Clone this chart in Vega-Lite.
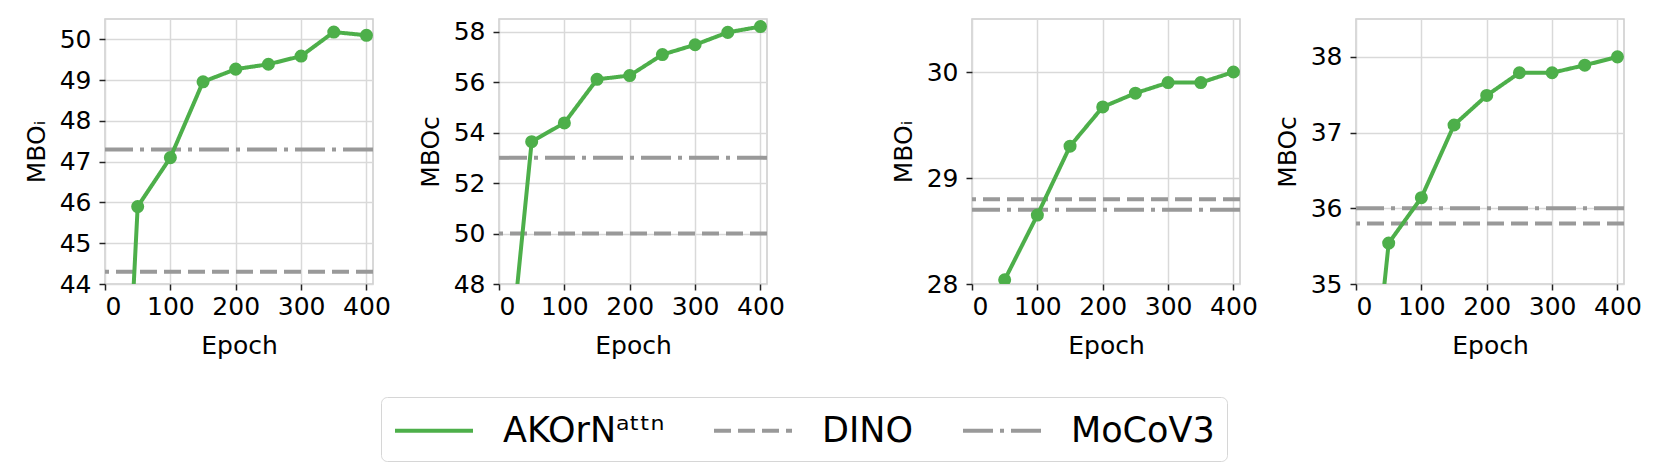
{
  "$schema": "https://vega.github.io/schema/vega-lite/v6.json",
  "background": "white",
  "padding": {"left": 23, "top": 18, "right": 5, "bottom": 5},
  "datasets": {
    "akorn": [
      {"panel": 1, "epoch": 0, "value": 30.1, "method": "AKOrNᵃᵗᵗⁿ"},
      {"panel": 1, "epoch": 50, "value": 45.9, "method": "AKOrNᵃᵗᵗⁿ"},
      {"panel": 1, "epoch": 100, "value": 47.1, "method": "AKOrNᵃᵗᵗⁿ"},
      {"panel": 1, "epoch": 150, "value": 48.96, "method": "AKOrNᵃᵗᵗⁿ"},
      {"panel": 1, "epoch": 200, "value": 49.27, "method": "AKOrNᵃᵗᵗⁿ"},
      {"panel": 1, "epoch": 250, "value": 49.39, "method": "AKOrNᵃᵗᵗⁿ"},
      {"panel": 1, "epoch": 300, "value": 49.59, "method": "AKOrNᵃᵗᵗⁿ"},
      {"panel": 1, "epoch": 350, "value": 50.18, "method": "AKOrNᵃᵗᵗⁿ"},
      {"panel": 1, "epoch": 400, "value": 50.1, "method": "AKOrNᵃᵗᵗⁿ"},
      {"panel": 2, "epoch": 0, "value": 40.7, "method": "AKOrNᵃᵗᵗⁿ"},
      {"panel": 2, "epoch": 50, "value": 53.64, "method": "AKOrNᵃᵗᵗⁿ"},
      {"panel": 2, "epoch": 100, "value": 54.38, "method": "AKOrNᵃᵗᵗⁿ"},
      {"panel": 2, "epoch": 150, "value": 56.11, "method": "AKOrNᵃᵗᵗⁿ"},
      {"panel": 2, "epoch": 200, "value": 56.26, "method": "AKOrNᵃᵗᵗⁿ"},
      {"panel": 2, "epoch": 250, "value": 57.09, "method": "AKOrNᵃᵗᵗⁿ"},
      {"panel": 2, "epoch": 300, "value": 57.48, "method": "AKOrNᵃᵗᵗⁿ"},
      {"panel": 2, "epoch": 350, "value": 57.97, "method": "AKOrNᵃᵗᵗⁿ"},
      {"panel": 2, "epoch": 400, "value": 58.2, "method": "AKOrNᵃᵗᵗⁿ"},
      {"panel": 3, "epoch": 0, "value": 24.0, "method": "AKOrNᵃᵗᵗⁿ"},
      {"panel": 3, "epoch": 50, "value": 28.04, "method": "AKOrNᵃᵗᵗⁿ"},
      {"panel": 3, "epoch": 100, "value": 28.65, "method": "AKOrNᵃᵗᵗⁿ"},
      {"panel": 3, "epoch": 150, "value": 29.3, "method": "AKOrNᵃᵗᵗⁿ"},
      {"panel": 3, "epoch": 200, "value": 29.67, "method": "AKOrNᵃᵗᵗⁿ"},
      {"panel": 3, "epoch": 250, "value": 29.8, "method": "AKOrNᵃᵗᵗⁿ"},
      {"panel": 3, "epoch": 300, "value": 29.9, "method": "AKOrNᵃᵗᵗⁿ"},
      {"panel": 3, "epoch": 350, "value": 29.9, "method": "AKOrNᵃᵗᵗⁿ"},
      {"panel": 3, "epoch": 400, "value": 30.0, "method": "AKOrNᵃᵗᵗⁿ"},
      {"panel": 4, "epoch": 0, "value": 31.4, "method": "AKOrNᵃᵗᵗⁿ"},
      {"panel": 4, "epoch": 50, "value": 35.54, "method": "AKOrNᵃᵗᵗⁿ"},
      {"panel": 4, "epoch": 100, "value": 36.14, "method": "AKOrNᵃᵗᵗⁿ"},
      {"panel": 4, "epoch": 150, "value": 37.1, "method": "AKOrNᵃᵗᵗⁿ"},
      {"panel": 4, "epoch": 200, "value": 37.49, "method": "AKOrNᵃᵗᵗⁿ"},
      {"panel": 4, "epoch": 250, "value": 37.79, "method": "AKOrNᵃᵗᵗⁿ"},
      {"panel": 4, "epoch": 300, "value": 37.79, "method": "AKOrNᵃᵗᵗⁿ"},
      {"panel": 4, "epoch": 350, "value": 37.89, "method": "AKOrNᵃᵗᵗⁿ"},
      {"panel": 4, "epoch": 400, "value": 38.0, "method": "AKOrNᵃᵗᵗⁿ"}
    ],
    "base": [
      {"panel": 1, "value": 44.3, "method": "DINO"},
      {"panel": 1, "value": 47.3, "method": "MoCoV3"},
      {"panel": 2, "value": 50.0, "method": "DINO"},
      {"panel": 2, "value": 53.0, "method": "MoCoV3"},
      {"panel": 3, "value": 28.8, "method": "DINO"},
      {"panel": 3, "value": 28.7, "method": "MoCoV3"},
      {"panel": 4, "value": 35.8, "method": "DINO"},
      {"panel": 4, "value": 36.0, "method": "MoCoV3"}
    ]
  },
  "config": {
    "font": "DejaVu Sans",
    "view": {"stroke": "#cccccc", "strokeWidth": 1.5},
    "axis": {
      "labelFont": "DejaVu Sans", "titleFont": "DejaVu Sans",
      "labelFontSize": 25, "titleFontSize": 25, "titleFontWeight": "normal",
      "labelColor": "black", "titleColor": "black",
      "domain": false, "tickColor": "#222222", "tickSize": 6, "tickWidth": 1.5,
      "gridColor": "#d9d9d9", "gridWidth": 1.5
    },
    "axisX": {"labelPadding": 4, "titlePadding": 14},
    "axisY": {"labelPadding": 8, "titlePadding": 10, "format": "d"},
    "legend": {"labelFont": "DejaVu Sans"}
  },
  "spacing": 104,
  "hconcat": [
    {
      "spacing": 25,
      "hconcat": [
        {
          "width": 268, "height": 265,
          "layer": [
            {
              "data": {"name": "base"},
              "transform": [{"filter": "datum.panel == 1"}],
              "mark": {"type": "rule", "strokeWidth": 4, "clip": true},
              "encoding": {
                "y": {"field": "value", "type": "quantitative", "scale": {"domain": [44, 50.5], "nice": false, "zero": false}, "axis": {"title": "MBOᵢ", "values": [44, 45, 46, 47, 48, 49, 50]}},
                "color": {"field": "method", "type": "nominal", "scale": {"domain": ["AKOrNᵃᵗᵗⁿ", "DINO", "MoCoV3"], "range": ["#4daf4a", "#999999", "#999999"]},
                  "legend": {"title": null, "orient": "none", "legendX": 276, "legendY": 378, "direction": "horizontal", "symbolType": "M-1,0H3", "symbolSize": 1521, "symbolStrokeWidth": 4, "labelFontSize": 35, "labelColor": "black", "labelLimit": 600, "labelOffset": 67, "columnPadding": 41, "padding": 12, "strokeColor": "#d6d6d6", "fillColor": "white", "cornerRadius": 6}},
                "strokeDash": {"field": "method", "type": "nominal", "scale": {"domain": ["AKOrNᵃᵗᵗⁿ", "DINO", "MoCoV3"], "range": [[1, 0], [17, 7], [30, 7, 4, 7]]},
                  "legend": {"title": null, "orient": "none", "legendX": 276, "legendY": 378, "direction": "horizontal", "symbolType": "M-1,0H3", "symbolSize": 1521, "symbolStrokeWidth": 4, "labelFontSize": 35, "labelColor": "black", "labelLimit": 600, "labelOffset": 67, "columnPadding": 41, "padding": 12, "strokeColor": "#d6d6d6", "fillColor": "white", "cornerRadius": 6}}
              }
            },
            {
              "data": {"name": "akorn"},
              "transform": [{"filter": "datum.panel == 1"}],
              "mark": {"type": "line", "strokeWidth": 4, "clip": true},
              "encoding": {
                "x": {"field": "epoch", "type": "quantitative", "scale": {"domain": [0, 410], "nice": false}, "axis": {"title": "Epoch", "values": [0, 100, 200, 300, 400]}},
                "y": {"field": "value", "type": "quantitative"},
                "color": {"field": "method", "type": "nominal"},
                "strokeDash": {"field": "method", "type": "nominal"}
              }
            },
            {
              "data": {"name": "akorn"},
              "transform": [{"filter": "datum.panel == 1"}],
              "mark": {"type": "point", "filled": true, "size": 170, "opacity": 1, "clip": true},
              "encoding": {
                "x": {"field": "epoch", "type": "quantitative"},
                "y": {"field": "value", "type": "quantitative"},
                "color": {"field": "method", "type": "nominal"}
              }
            }
          ]
        },
        {
          "width": 268, "height": 265,
          "layer": [
            {
              "data": {"name": "base"},
              "transform": [{"filter": "datum.panel == 2"}],
              "mark": {"type": "rule", "strokeWidth": 4, "clip": true},
              "encoding": {
                "y": {"field": "value", "type": "quantitative", "scale": {"domain": [48, 58.5], "nice": false, "zero": false}, "axis": {"title": "MBOᴄ", "values": [48, 50, 52, 54, 56, 58]}},
                "color": {"field": "method", "type": "nominal"},
                "strokeDash": {"field": "method", "type": "nominal"}
              }
            },
            {
              "data": {"name": "akorn"},
              "transform": [{"filter": "datum.panel == 2"}],
              "mark": {"type": "line", "strokeWidth": 4, "clip": true},
              "encoding": {
                "x": {"field": "epoch", "type": "quantitative", "scale": {"domain": [0, 410], "nice": false}, "axis": {"title": "Epoch", "values": [0, 100, 200, 300, 400]}},
                "y": {"field": "value", "type": "quantitative"},
                "color": {"field": "method", "type": "nominal"},
                "strokeDash": {"field": "method", "type": "nominal"}
              }
            },
            {
              "data": {"name": "akorn"},
              "transform": [{"filter": "datum.panel == 2"}],
              "mark": {"type": "point", "filled": true, "size": 170, "opacity": 1, "clip": true},
              "encoding": {
                "x": {"field": "epoch", "type": "quantitative"},
                "y": {"field": "value", "type": "quantitative"},
                "color": {"field": "method", "type": "nominal"}
              }
            }
          ]
        }
      ]
    },
    {
      "spacing": 15,
      "hconcat": [
        {
          "width": 268, "height": 265,
          "layer": [
            {
              "data": {"name": "base"},
              "transform": [{"filter": "datum.panel == 3"}],
              "mark": {"type": "rule", "strokeWidth": 4, "clip": true},
              "encoding": {
                "y": {"field": "value", "type": "quantitative", "scale": {"domain": [28, 30.5], "nice": false, "zero": false}, "axis": {"title": "MBOᵢ", "values": [28, 29, 30]}},
                "color": {"field": "method", "type": "nominal"},
                "strokeDash": {"field": "method", "type": "nominal"}
              }
            },
            {
              "data": {"name": "akorn"},
              "transform": [{"filter": "datum.panel == 3"}],
              "mark": {"type": "line", "strokeWidth": 4, "clip": true},
              "encoding": {
                "x": {"field": "epoch", "type": "quantitative", "scale": {"domain": [0, 410], "nice": false}, "axis": {"title": "Epoch", "values": [0, 100, 200, 300, 400]}},
                "y": {"field": "value", "type": "quantitative"},
                "color": {"field": "method", "type": "nominal"},
                "strokeDash": {"field": "method", "type": "nominal"}
              }
            },
            {
              "data": {"name": "akorn"},
              "transform": [{"filter": "datum.panel == 3"}],
              "mark": {"type": "point", "filled": true, "size": 170, "opacity": 1, "clip": true},
              "encoding": {
                "x": {"field": "epoch", "type": "quantitative"},
                "y": {"field": "value", "type": "quantitative"},
                "color": {"field": "method", "type": "nominal"}
              }
            }
          ]
        },
        {
          "width": 268, "height": 265,
          "layer": [
            {
              "data": {"name": "base"},
              "transform": [{"filter": "datum.panel == 4"}],
              "mark": {"type": "rule", "strokeWidth": 4, "clip": true},
              "encoding": {
                "y": {"field": "value", "type": "quantitative", "scale": {"domain": [35, 38.5], "nice": false, "zero": false}, "axis": {"title": "MBOᴄ", "values": [35, 36, 37, 38]}},
                "color": {"field": "method", "type": "nominal"},
                "strokeDash": {"field": "method", "type": "nominal"}
              }
            },
            {
              "data": {"name": "akorn"},
              "transform": [{"filter": "datum.panel == 4"}],
              "mark": {"type": "line", "strokeWidth": 4, "clip": true},
              "encoding": {
                "x": {"field": "epoch", "type": "quantitative", "scale": {"domain": [0, 410], "nice": false}, "axis": {"title": "Epoch", "values": [0, 100, 200, 300, 400]}},
                "y": {"field": "value", "type": "quantitative"},
                "color": {"field": "method", "type": "nominal"},
                "strokeDash": {"field": "method", "type": "nominal"}
              }
            },
            {
              "data": {"name": "akorn"},
              "transform": [{"filter": "datum.panel == 4"}],
              "mark": {"type": "point", "filled": true, "size": 170, "opacity": 1, "clip": true},
              "encoding": {
                "x": {"field": "epoch", "type": "quantitative"},
                "y": {"field": "value", "type": "quantitative"},
                "color": {"field": "method", "type": "nominal"}
              }
            }
          ]
        }
      ]
    }
  ],
  "resolve": {"scale": {"y": "independent", "x": "independent"}}
}
